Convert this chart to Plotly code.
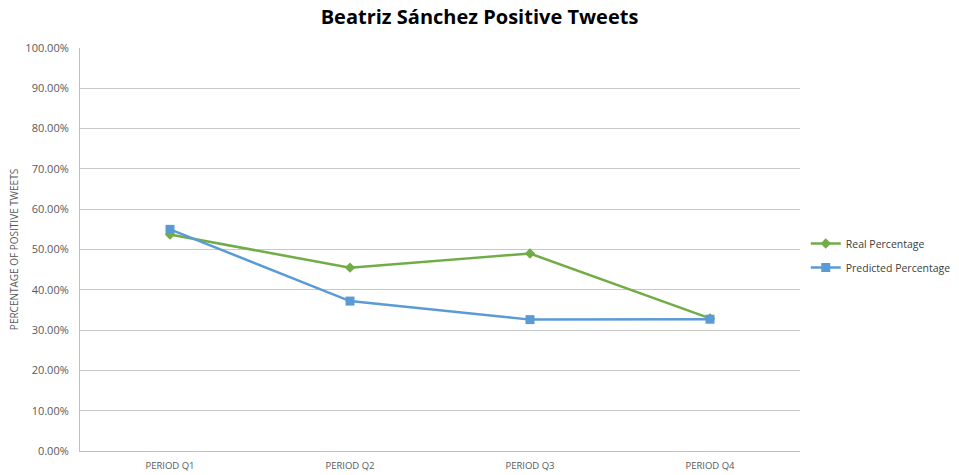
import plotly.graph_objects as go

categories = ["PERIOD Q1", "PERIOD Q2", "PERIOD Q3", "PERIOD Q4"]
real_pct = [0.537, 0.455, 0.490, 0.329]
pred_pct = [0.550, 0.372, 0.326, 0.327]
y_ticks = [i / 10 for i in range(11)]
y_tick_labels = [f"{v*100:.2f}%" for v in y_ticks]

fig = go.Figure()
fig.add_trace(go.Scatter(
    x=categories, y=real_pct, name="Real Percentage", mode="lines+markers",
    legendgroup="real",
    line=dict(color="#70ad47", width=2.5),
    marker=dict(symbol="diamond", size=8, color="#70ad47"),
))
fig.add_trace(go.Scatter(
    x=categories, y=pred_pct, name="Predicted Percentage", mode="lines+markers",
    legendgroup="pred",
    line=dict(color="#5b9bd5", width=2.5),
    marker=dict(symbol="square", size=9, color="#5b9bd5"),
))

fig.update_layout(
    width=959, height=475,
    margin=dict(l=80, r=159, t=48, b=24, autoexpand=False),
    paper_bgcolor="white", plot_bgcolor="white",
    font=dict(family="Open Sans, Liberation Sans, sans-serif", color="#595959"),
    title=dict(text="<b>Beatriz Sánchez Positive Tweets</b>", x=0.5, xanchor="center",
               y=0.965, yanchor="middle",
               font=dict(size=20, color="#000000", family="Open Sans, sans-serif")),
    showlegend=True,
    legend=dict(x=1.008, y=0.485, xanchor="left", yanchor="middle",
                font=dict(size=10.5, color="#404040"), tracegroupgap=5, itemwidth=30),
    xaxis=dict(
        type="category", range=[-0.5, 3.5],
        showline=True, linecolor="#bfbfbf", linewidth=1,
        showgrid=False, ticks="", ticklabelstandoff=6,
        tickfont=dict(size=9.5, color="#595959"),
    ),
    yaxis=dict(
        range=[0, 1], tickvals=y_ticks, ticktext=y_tick_labels,
        showline=True, linecolor="#bfbfbf", linewidth=1,
        showgrid=True, gridcolor="#c8c8c8", gridwidth=1,
        ticks="", ticklabelstandoff=8, tickfont=dict(size=11, color="#595959"),
        title=dict(text="PERCENTAGE OF POSITIVE TWEETS", font=dict(size=10, color="#595959"), standoff=4),
        zeroline=False,
    ),
)

fig.write_html("out.html")
